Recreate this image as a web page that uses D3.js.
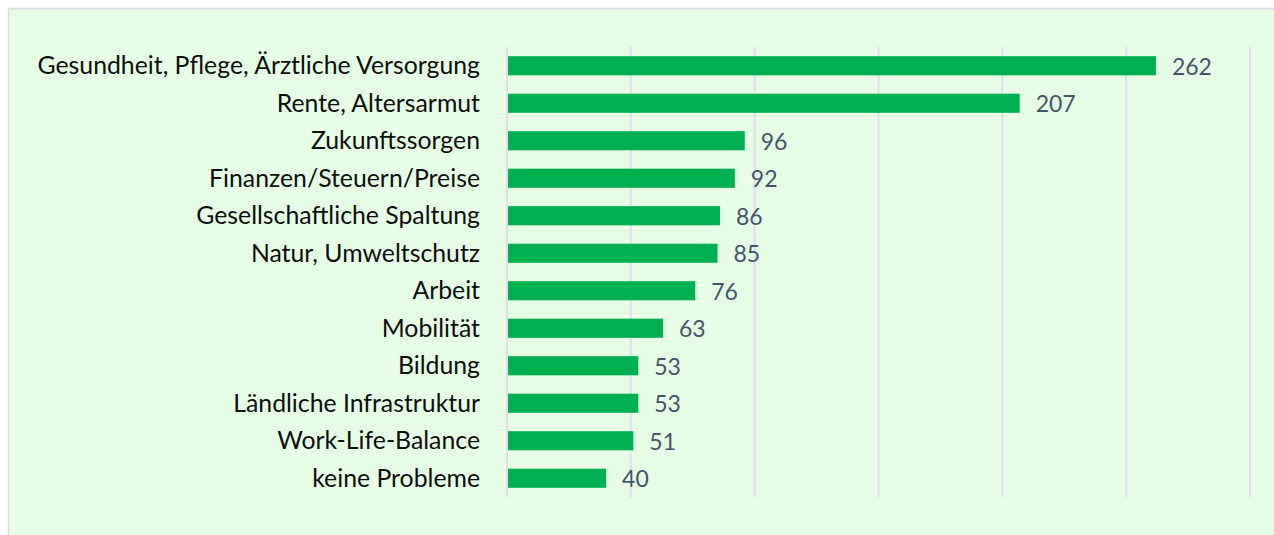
<!DOCTYPE html>
<html>
<head>
<meta charset="utf-8">
<script src="https://cdn.jsdelivr.net/npm/d3@7"></script>
<style>
  body { margin: 0; background: #fff; }
  text { font-family: Lato, "Open Sans", sans-serif; }
</style>
</head>
<body>
<div id="chart"></div>
<script>
const width = 1274, height = 535;

// chart data
const categories = [
  "Gesundheit, Pflege, Ärztliche Versorgung",
  "Rente, Altersarmut",
  "Zukunftssorgen",
  "Finanzen/Steuern/Preise",
  "Gesellschaftliche Spaltung",
  "Natur, Umweltschutz",
  "Arbeit",
  "Mobilität",
  "Bildung",
  "Ländliche Infrastruktur",
  "Work-Life-Balance",
  "keine Probleme"
];
const counts = [262, 207, 96, 92, 86, 85, 76, 63, 53, 53, 51, 40];
const gridTicks = [0, 50, 100, 150, 200, 250, 300];

const svg = d3.select("#chart").append("svg")
    .attr("width", width)
    .attr("height", height);

// light green panel with thin border
svg.append("rect")
    .attr("x", 8.5).attr("y", 8.5)
    .attr("width", width).attr("height", height)
    .attr("fill", "#e6fde6")
    .attr("stroke", "#d8dbe8")
    .attr("stroke-width", 1.5);

const x = d3.scaleLinear()
    .domain([0, 300])
    .range([507, 1250]);

const y = d3.scaleBand()
    .domain(categories)
    .range([47, 497])
    .paddingInner(0.49)
    .paddingOuter(0.245);

// vertical gridlines
svg.append("g")
    .selectAll("line")
    .data(gridTicks)
    .join("line")
    .attr("x1", d => x(d)).attr("x2", d => x(d))
    .attr("y1", 47).attr("y2", 497)
    .attr("stroke", "#dde0ea")
    .attr("stroke-width", 2);

// bars
svg.append("g")
    .selectAll("rect")
    .data(counts)
    .join("rect")
    .attr("x", x(0) + 1)
    .attr("y", (d, i) => y(categories[i]))
    .attr("width", d => x(d) - x(0) - 1)
    .attr("height", y.bandwidth())
    .attr("fill", "#00b050");

// category labels
svg.append("g")
    .selectAll("text")
    .data(categories)
    .join("text")
    .attr("x", 480)
    .attr("y", d => y(d) + y.bandwidth() / 2)
    .attr("dy", "0.35em")
    .attr("text-anchor", "end")
    .attr("font-size", 24.8)
    .attr("fill", "#0d0d0d")
    .text(d => d);

// value labels
svg.append("g")
    .selectAll("text")
    .data(counts)
    .join("text")
    .attr("x", d => x(d) + 16)
    .attr("y", (d, i) => y(categories[i]) + y.bandwidth() / 2)
    .attr("dy", "0.4em")
    .attr("font-size", 23)
    .attr("fill", "#44546a")
    .text(d => d);
</script>
</body>
</html>
